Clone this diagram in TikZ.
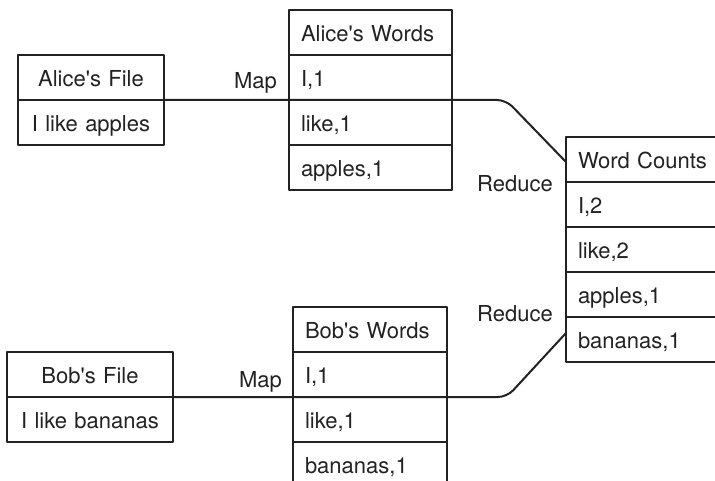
\documentclass[tikz,border=0pt]{standalone}
\usepackage{fontspec}
\setmainfont{TeX Gyre Heros}
\usetikzlibrary{positioning}
\definecolor{boxInk}{RGB}{34,34,34}

\begin{document}
\begin{tikzpicture}[x=1pt, y=-1pt, line cap=round, line join=round,
    font=\fontsize{22}{26}\selectfont, text=boxInk,
    cell/.style={draw=boxInk, line width=2.2pt, minimum height=45pt, inner xsep=12pt, inner ysep=0pt,
        outer sep=0pt, text height=19pt, text depth=1pt, text width=#1, align=left},
    fileCell/.style={cell=#1, align=center},
    link/.style={draw=boxInk, line width=2pt, rounded corners=9pt},
    tag/.style={inner sep=0pt}]
    \useasboundingbox (0,0) rectangle (715,481);
    \clip (0,0) rectangle (715,481);
    % input files
    \node[fileCell=122pt, anchor=north west] (aliceFile) at (18,55) {Alice\textquotesingle s File};
    \node[fileCell=122pt, below=0pt of aliceFile] (aliceText) {I like apples};
    \node[fileCell=142pt, anchor=north west] (bobFile) at (7,352) {Bob\textquotesingle s File};
    \node[fileCell=142pt, below=0pt of bobFile] (bobText) {I like bananas};
    % map output
    \node[cell=139pt, anchor=north west] (aliceWords) at (289,10) {Alice\textquotesingle s Words};
    \node[cell=139pt, below=0pt of aliceWords] (aliceW1) {I,1};
    \node[cell=139pt, below=0pt of aliceW1] (aliceW2) {like,1};
    \node[cell=139pt, below=0pt of aliceW2] (aliceW3) {apples,1};
    \node[cell=130pt, anchor=north west] (bobWords) at (293,307) {Bob\textquotesingle s Words};
    \node[cell=130pt, below=0pt of bobWords] (bobW1) {I,1};
    \node[cell=130pt, below=0pt of bobW1] (bobW2) {like,1};
    \node[cell=130pt, below=0pt of bobW2] (bobW3) {bananas,1};
    % reduce output
    \node[cell=132pt, anchor=north west] (counts) at (566,137) {Word Counts};
    \node[cell=132pt, below=0pt of counts] (countW1) {I,2};
    \node[cell=132pt, below=0pt of countW1] (countW2) {like,2};
    \node[cell=132pt, below=0pt of countW2] (countW3) {apples,1};
    \node[cell=132pt, below=0pt of countW3] (countW4) {bananas,1};
    % links
    \coordinate (bendA) at (506,100);
    \coordinate (bendB) at (507,397);
    \draw[link] (aliceFile.south east) -- (bendA) -- ([yshift=-2.5pt]counts.west);
    \draw[link] (bobFile.south east) -- (bendB) -- ([yshift=6.5pt]countW4.west);
    \node[tag, above left=7pt and 12pt of aliceW1.south west] (mapA) {Map};
    \node[tag, above left=4.5pt and 11pt of bobW1.south west] (mapB) {Map};
    \node[tag, left=13pt of countW1.north west, yshift=-2pt] (reduceA) {Reduce};
    \node[tag, left=13pt of countW4.north west, yshift=3.5pt] (reduceB) {Reduce};
\end{tikzpicture}
\end{document}
